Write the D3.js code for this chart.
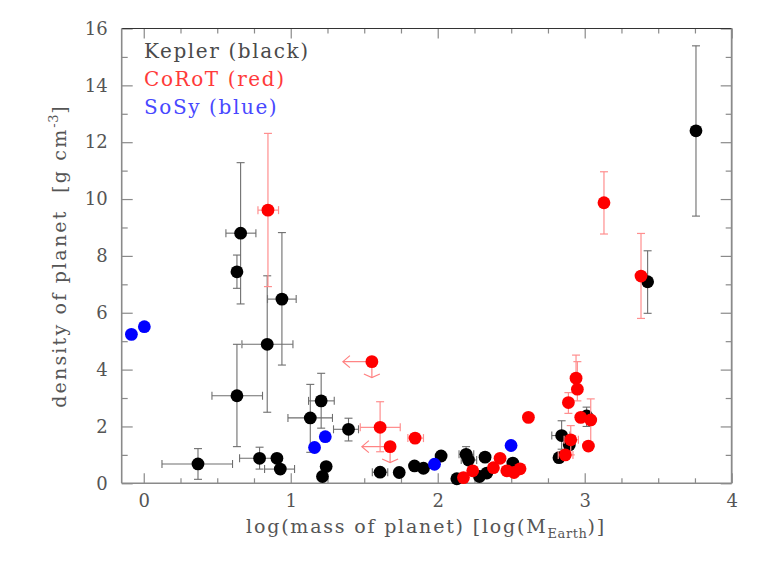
<!DOCTYPE html>
<html>
<head>
<meta charset="utf-8">
<script src="https://cdn.jsdelivr.net/npm/d3@7"></script>
<style>
  html, body { margin: 0; padding: 0; background: #fff; }
  svg { display: block; }
  text { font-family: "DejaVu Serif", "Liberation Serif", serif; }
</style>
</head>
<body>
<svg id="chart" width="778" height="581"></svg>
<script>
// ---------------- DATA ----------------
// Kepler (black)
const keplerMass    = [0.659, 0.634, 0.940, 0.840, 0.634, 0.369, 0.788, 0.906, 0.929, 1.133, 1.207, 1.216, 1.241, 1.393, 1.608, 1.738, 1.842, 1.903, 2.023, 2.130, 2.193, 2.209, 2.322, 2.284, 2.334, 2.511, 2.843, 2.895, 2.825, 3.013, 3.428, 3.757];
const keplerDensity = [8.80, 7.44, 6.48, 4.89, 3.08, 0.68, 0.88, 0.88, 0.50, 2.30, 2.90, 0.24, 0.59, 1.90, 0.39, 0.38, 0.61, 0.53, 0.96, 0.16, 1.02, 0.82, 0.92, 0.24, 0.36, 0.71, 1.68, 1.35, 0.90, 2.37, 7.09, 12.40];
const keplerMassLo  = [0.559, null, 0.842, 0.668, 0.464, 0.124, 0.652, null, 0.822, 0.981, 1.121, null, null, 1.291, 1.555, null, null, null, null, null, 2.145, 2.160, null, null, null, null, 2.776, null, null, null, null, null];
const keplerMassHi  = [0.763, null, 1.037, 1.015, 0.808, 0.604, 0.920, null, 1.026, 1.284, 1.296, null, null, 1.461, 1.660, null, null, null, null, null, 2.245, 2.265, null, null, null, null, 2.900, null, null, null, null, null];
const keplerDensLo  = [6.31, 6.86, 4.16, 2.50, 1.29, 0.14, 0.50, null, null, 1.09, 1.94, null, null, 1.49, null, null, null, null, null, null, 0.85, null, null, null, null, null, 1.20, null, null, 2.00, 5.98, 9.40];
const keplerDensHi  = [11.28, 8.03, 8.82, 7.30, 4.89, 1.22, 1.27, null, null, 3.48, 3.87, null, null, 2.29, null, null, null, null, null, null, 1.29, null, null, null, null, null, 2.20, null, null, 2.68, 8.18, 15.39];

// CoRoT (red)
const corotMass    = [0.845, 1.552, 1.608, 1.676, 1.846, 2.175, 2.238, 2.379, 2.424, 2.470, 2.519, 2.560, 2.617, 2.941, 2.950, 2.889, 2.973, 3.041, 3.025, 2.905, 2.868, 3.131, 3.383];
const corotDensity = [9.61, 4.28, 1.97, 1.29, 1.59, 0.20, 0.44, 0.55, 0.88, 0.44, 0.38, 0.51, 2.32, 3.70, 3.31, 2.84, 2.32, 2.23, 1.31, 1.53, 1.00, 9.87, 7.29];
const corotMassLo  = [0.777, null, 1.473, null, 1.797, null, null, null, null, null, null, null, null, null, null, 2.860, null, null, null, 2.860, 2.820, null, null];
const corotMassHi  = [0.917, null, 1.745, null, 1.903, null, null, null, null, null, null, null, null, null, null, 2.918, null, null, null, 2.957, 2.920, null, null];
const corotDensLo  = [6.92, null, 1.11, null, null, null, null, null, null, null, null, null, 2.20, 3.30, 2.90, 2.46, null, 1.30, null, 1.00, null, 8.77, 5.80];
const corotDensHi  = [12.31, null, 2.87, null, null, null, null, null, null, null, null, null, 2.45, 4.51, 4.28, 3.19, null, 2.97, null, 2.03, null, 10.96, 8.79];
// CoRoT upper limits (arrows)
const corotLimitMass    = [1.552, 1.676];
const corotLimitDensity = [4.28, 1.29];
const corotLimitMassTo  = [1.355, 1.484];
const corotLimitDensTo  = [3.72, 0.73];

// Solar System (blue)
const sosyMass    = [-0.084, 0.004, 1.162, 1.235, 1.978, 2.499];
const sosyDensity = [5.24, 5.51, 1.26, 1.64, 0.67, 1.33];

// Axes
const xMajorTicks = [0, 1, 2, 3, 4];
const xMinorTicks = [0.25, 0.5, 0.75, 1.25, 1.5, 1.75, 2.25, 2.5, 2.75, 3.25, 3.5, 3.75];
const yMajorTicks = [0, 2, 4, 6, 8, 10, 12, 14, 16];
const yMinorTicks = [1, 3, 5, 7, 9, 11, 13, 15];
const legendLabels = ["Kepler (black)", "CoRoT (red)", "SoSy (blue)"];

// ---------------- CHART ----------------
const svg = d3.select("#chart");
const L = 121.7, R = 731.7, T = 28.5, B = 483.3;
const x = d3.scaleLinear().domain([-0.15, 4]).range([L, R]);
const y = d3.scaleLinear().domain([0, 16]).range([B, T]);

const axisColor = "#8a8a8a";
const textColor = "#555";

function styleAxis(g) {
  g.select(".domain").remove();
  g.selectAll(".tick line").attr("stroke", axisColor).attr("stroke-width", 1.2);
  g.selectAll(".tick text").attr("fill", textColor).attr("font-size", 18)
    .attr("font-family", '"DejaVu Serif", serif');
}
const noLabel = () => "";

svg.append("g").attr("transform", `translate(0,${B})`)
  .call(d3.axisBottom(x).tickValues(xMajorTicks).tickSize(-10).tickPadding(11).tickFormat(d3.format("d")))
  .call(styleAxis);
svg.append("g").attr("transform", `translate(0,${B})`)
  .call(d3.axisBottom(x).tickValues(xMinorTicks).tickSize(-5).tickFormat(noLabel))
  .call(styleAxis);
svg.append("g").attr("transform", `translate(0,${T})`)
  .call(d3.axisTop(x).tickValues(xMajorTicks).tickSize(-10).tickFormat(noLabel))
  .call(styleAxis);
svg.append("g").attr("transform", `translate(0,${T})`)
  .call(d3.axisTop(x).tickValues(xMinorTicks).tickSize(-5).tickFormat(noLabel))
  .call(styleAxis);
svg.append("g").attr("transform", `translate(${L},0)`)
  .call(d3.axisLeft(y).tickValues(yMajorTicks).tickSize(-11).tickPadding(14).tickFormat(d3.format("d")))
  .call(styleAxis);
svg.append("g").attr("transform", `translate(${L},0)`)
  .call(d3.axisLeft(y).tickValues(yMinorTicks).tickSize(-6).tickFormat(noLabel))
  .call(styleAxis);
svg.append("g").attr("transform", `translate(${R},0)`)
  .call(d3.axisRight(y).tickValues(yMajorTicks).tickSize(-11).tickFormat(noLabel))
  .call(styleAxis);
svg.append("g").attr("transform", `translate(${R},0)`)
  .call(d3.axisRight(y).tickValues(yMinorTicks).tickSize(-6).tickFormat(noLabel))
  .call(styleAxis);

// frame
svg.append("line").attr("x1", L).attr("x2", R).attr("y1", T).attr("y2", T).attr("stroke", "#333").attr("stroke-width", 1);
svg.append("line").attr("x1", L).attr("x2", R).attr("y1", B).attr("y2", B).attr("stroke", axisColor).attr("stroke-width", 1.6);
svg.append("line").attr("x1", L).attr("x2", L).attr("y1", T).attr("y2", B).attr("stroke", axisColor).attr("stroke-width", 1.6);
svg.append("line").attr("x1", R).attr("x2", R).attr("y1", T).attr("y2", B).attr("stroke", axisColor).attr("stroke-width", 1.8);

// error bars
function errorBars(mass, dens, mLo, mHi, dLo, dHi, color, width) {
  const g = svg.append("g").attr("stroke", color).attr("stroke-width", width).attr("fill", "none");
  const cap = 4;
  mass.forEach((m, i) => {
    const cx = x(m), cy = y(dens[i]);
    if (dLo[i] != null) {
      g.append("line").attr("x1", cx).attr("x2", cx).attr("y1", y(dLo[i])).attr("y2", y(dHi[i]));
      g.append("line").attr("x1", cx - cap).attr("x2", cx + cap).attr("y1", y(dLo[i])).attr("y2", y(dLo[i]));
      g.append("line").attr("x1", cx - cap).attr("x2", cx + cap).attr("y1", y(dHi[i])).attr("y2", y(dHi[i]));
    }
    if (mLo[i] != null) {
      g.append("line").attr("x1", x(mLo[i])).attr("x2", x(mHi[i])).attr("y1", cy).attr("y2", cy);
      g.append("line").attr("x1", x(mLo[i])).attr("x2", x(mLo[i])).attr("y1", cy - cap).attr("y2", cy + cap);
      g.append("line").attr("x1", x(mHi[i])).attr("x2", x(mHi[i])).attr("y1", cy - cap).attr("y2", cy + cap);
    }
  });
}
function points(mass, dens, color) {
  svg.append("g").selectAll("circle").data(mass).join("circle")
    .attr("cx", d => x(d)).attr("cy", (d, i) => y(dens[i])).attr("r", 6.4).attr("fill", color);
}

errorBars(keplerMass, keplerDensity, keplerMassLo, keplerMassHi, keplerDensLo, keplerDensHi, "#6e6e6e", 1.1);
points(keplerMass, keplerDensity, "#000");

errorBars(corotMass, corotDensity, corotMassLo, corotMassHi, corotDensLo, corotDensHi, "#ff8f8f", 1.2);
const arr = svg.append("g").attr("stroke", "#ff8080").attr("stroke-width", 1.2).attr("fill", "none");
corotLimitMass.forEach((m, i) => {
  const cx = x(m), cy = y(corotLimitDensity[i]);
  const lx = x(corotLimitMassTo[i]), ly = y(corotLimitDensTo[i]);
  arr.append("line").attr("x1", cx).attr("x2", lx).attr("y1", cy).attr("y2", cy);
  arr.append("path").attr("d", `M${lx + 7},${cy - 6}L${lx},${cy}L${lx + 7},${cy + 6}`);
  arr.append("line").attr("x1", cx).attr("x2", cx).attr("y1", cy).attr("y2", ly);
  arr.append("path").attr("d", `M${cx - 8},${ly - 3.5}L${cx},${ly}L${cx + 8},${ly - 3.5}`);
});
points(corotMass, corotDensity, "#ff0000");
points(sosyMass, sosyDensity, "#0000ff");

// legend
const legendColors = ["#4a4a4a", "#ff3a3a", "#4848ff"];
svg.append("g").selectAll("text").data(legendLabels).join("text")
  .attr("x", 144).attr("y", (d, i) => 58 + i * 28)
  .attr("font-size", 20).attr("letter-spacing", 1.6)
  .attr("fill", (d, i) => legendColors[i]).text(d => d);

// axis titles
const xt = svg.append("text").attr("x", 426).attr("y", 533).attr("text-anchor", "middle")
  .attr("font-size", 19).attr("fill", textColor).attr("letter-spacing", 1.8);
xt.append("tspan").text("log(mass of planet) [log(M");
xt.append("tspan").attr("font-size", 13).attr("dy", 5).attr("letter-spacing", 0.6).text("Earth");
xt.append("tspan").attr("dy", -5).text(")]");

const yt = svg.append("text").attr("transform", "translate(66,256) rotate(-90)").attr("text-anchor", "middle")
  .attr("font-size", 19).attr("fill", textColor).attr("letter-spacing", 2.2);
yt.append("tspan").text("density of planet\u00a0\u00a0[g cm");
yt.append("tspan").attr("font-size", 13).attr("dy", -8).attr("letter-spacing", 0.6).text("-3");
yt.append("tspan").attr("dy", 8).text("]");
</script>
</body>
</html>
